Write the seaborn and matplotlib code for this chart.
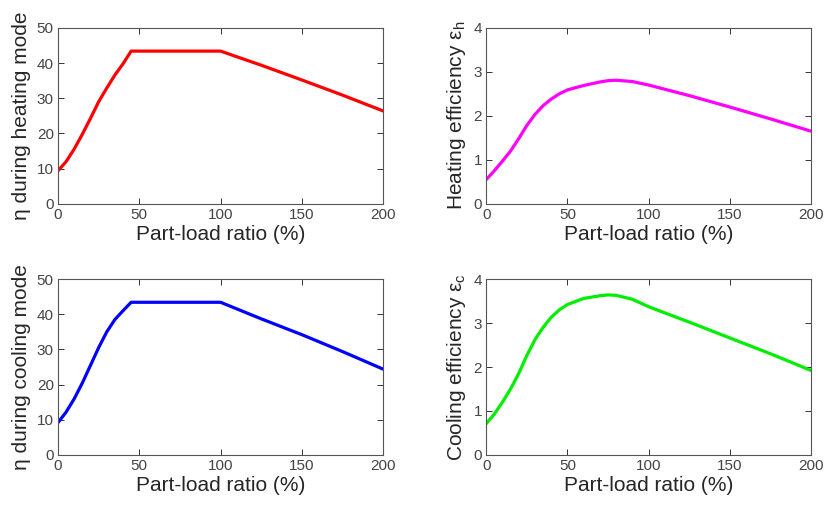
import matplotlib
matplotlib.use("Agg")
import matplotlib.pyplot as plt
import seaborn as sns
import pandas as pd

# Part-load ratio (%) sample points for each curve
plr_eta = [0, 5, 10, 15, 20, 25, 30, 35, 40, 45, 100, 125, 150, 175, 200]
eta_heating = [9.4, 12.0, 15.6, 19.8, 24.3, 29.0, 32.9, 36.6, 39.8, 43.4,
               43.4, 39.4, 35.2, 30.9, 26.4]
eta_cooling = [9.2, 12.2, 16.0, 20.5, 25.5, 30.5, 35.0, 38.5, 41.0, 43.4,
               43.4, 38.7, 34.2, 29.4, 24.4]

plr_eps = [0, 5, 10, 15, 20, 25, 30, 35, 40, 45, 50, 60, 70, 75, 80, 90,
           100, 125, 150, 175, 200]
eps_heating = [0.55, 0.75, 0.97, 1.20, 1.48, 1.78, 2.03, 2.23, 2.38, 2.50,
               2.59, 2.69, 2.77, 2.80, 2.81, 2.78, 2.70, 2.46, 2.20, 1.93, 1.65]
eps_cooling = [0.71, 0.93, 1.20, 1.50, 1.85, 2.26, 2.62, 2.90, 3.13, 3.30,
               3.42, 3.56, 3.62, 3.64, 3.63, 3.54, 3.37, 3.02, 2.66, 2.30, 1.92]

x_ticks = [0, 50, 100, 150, 200]
eta_ticks = [0, 10, 20, 30, 40, 50]
eps_ticks = [0, 1, 2, 3, 4]

sns.set_style("white")
plt.rcParams["font.family"] = ["Liberation Sans", "DejaVu Sans"]
plt.rcParams["mathtext.default"] = "regular"

fig = plt.figure(figsize=(8.24, 5.07), dpi=100)
fig.patch.set_facecolor("white")

left_l, left_r, width = 0.0704, 0.590, 0.3945
top_b, bot_b, height = 0.598, 0.1026, 0.347

panels = [
    ([left_l, top_b, width, height], plr_eta, eta_heating, "#ff0000",
     "η during heating mode", (0, 50), eta_ticks),
    ([left_r, top_b, width, height], plr_eps, eps_heating, "#ff00ff",
     "Heating efficiency ε$_{h}$", (0, 4), eps_ticks),
    ([left_l, bot_b, width, height], plr_eta, eta_cooling, "#0000ff",
     "η during cooling mode", (0, 50), eta_ticks),
    ([left_r, bot_b, width, height], plr_eps, eps_cooling, "#00ee00",
     "Cooling efficiency ε$_{c}$", (0, 4), eps_ticks),
]

for rect, xs, ys, color, ylabel, ylim, yticks in panels:
    ax = fig.add_axes(rect)
    df = pd.DataFrame({"plr": xs, "val": ys})
    sns.lineplot(data=df, x="plr", y="val", ax=ax, color=color, linewidth=2.3)
    ax.set_xlim(0, 200)
    ax.set_ylim(*ylim)
    ax.set_xticks(x_ticks)
    ax.set_yticks(yticks)
    ax.set_xlabel("Part-load ratio (%)", fontsize=15, labelpad=2)
    ax.set_ylabel(ylabel, fontsize=15, labelpad=4)
    ax.tick_params(direction="in", length=4, width=0.7, top=True, right=True,
                   bottom=True, left=True, labelsize=11, colors="#333333",
                   pad=3)
    ax.tick_params(axis="both", labelcolor="#444444")
    for sp in ax.spines.values():
        sp.set_visible(True)
        sp.set_color("#555555")
        sp.set_linewidth(0.8)

fig.savefig("out.png", dpi=100, facecolor="white")
